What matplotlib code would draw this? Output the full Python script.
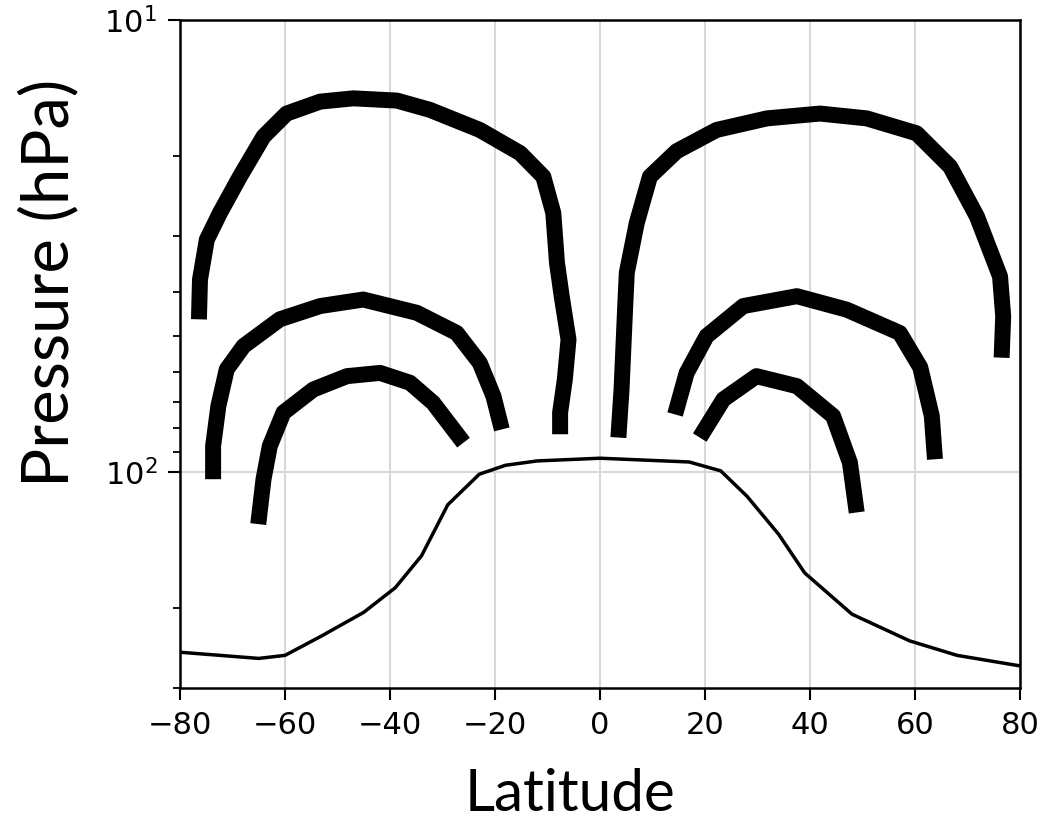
import matplotlib.pyplot as plt
from matplotlib.ticker import LogLocator, NullFormatter

# tropopause (thin line)
trop_lat = [-80, -65, -60, -53, -45, -39, -34, -29, -23, -18, -12, 0, 17, 23, 28, 34, 39, 48, 59, 68, 80]
trop_p = [250, 258, 254, 230, 204, 180, 153, 118, 101, 96.5, 94.4, 93.1, 94.9, 99.3, 113, 137, 167, 206, 236, 254, 268]

# southern hemisphere contours
s_outer_lat = [-76.4, -76.2, -74.9, -72.4, -68.6, -64.1, -59.7, -53.3, -47.0, -38.7, -32.4, -22.9, -15.2,
               -10.8, -8.9, -8.2, -7.3, -6.0, -6.7, -7.6, -7.6]
s_outer_p = [45.9, 37.5, 30.6, 26.7, 22.2, 18.1, 16.1, 15.15, 14.9, 15.07, 15.8, 17.5, 19.7,
             22.2, 26.7, 34.4, 40.8, 50.9, 62.3, 73.8, 82.4]
s_mid_lat = [-73.7, -73.7, -72.7, -71.1, -67.9, -61.0, -53.3, -45.1, -34.9, -27.3, -22.9, -20.3, -18.7]
s_mid_p = [103.6, 87.5, 71.4, 59.2, 52.6, 45.9, 42.9, 41.5, 44.4, 49.2, 57.3, 67.9, 80.4]
s_inner_lat = [-65.1, -64.1, -62.9, -60.3, -54.6, -48.2, -41.9, -36.2, -31.8, -26.0]
s_inner_p = [130.2, 103.6, 87.5, 73.8, 65.6, 61.3, 60.3, 63.4, 70.2, 86.0]

# northern hemisphere contours
n_outer_lat = [3.5, 4.1, 4.8, 5.1, 7.0, 9.5, 14.6, 22.2, 31.8, 41.9, 50.8, 60.3, 66.7, 71.8, 76.2, 76.8, 76.5]
n_outer_p = [83.8, 65.6, 42.9, 36.2, 28.1, 22.2, 19.5, 17.5, 16.5, 16.1, 16.5, 17.8, 21.1, 27.2, 36.9, 45.2, 55.8]
n_mid_lat = [14.3, 16.5, 20.3, 27.3, 37.5, 47.0, 57.1, 61.0, 63.2, 63.8]
n_mid_p = [74.5, 60.3, 50.0, 42.9, 40.8, 43.7, 49.2, 58.6, 75.1, 93.6]
n_inner_lat = [19.0, 23.5, 29.8, 37.5, 44.4, 47.6, 48.9]
n_inner_p = [83.8, 69.0, 61.3, 64.5, 75.1, 95.2, 122.7]

fig = plt.figure(figsize=(10.51, 8.24), dpi=100)
ax = fig.add_axes([0.1713, 0.165, 0.7992, 0.8107])

ax.plot(trop_lat, trop_p, color="black", lw=2.5)

contours = [(s_outer_lat, s_outer_p), (s_mid_lat, s_mid_p), (s_inner_lat, s_inner_p),
            (n_outer_lat, n_outer_p), (n_mid_lat, n_mid_p), (n_inner_lat, n_inner_p)]
for lat, p in contours:
    ax.plot(lat, p, color="black", lw=11.5, solid_capstyle="butt", solid_joinstyle="round")

ax.set_yscale("log")
ax.set_ylim(300, 10)
ax.set_xlim(-80, 80)
ax.set_xticks([-80, -60, -40, -20, 0, 20, 40, 60, 80])
ax.yaxis.set_major_locator(LogLocator(base=10))
ax.yaxis.set_minor_locator(LogLocator(base=10, subs=range(2, 10)))
ax.yaxis.set_minor_formatter(NullFormatter())

ax.grid(True, which="major", color="#d8d8d8", lw=1.5)
ax.set_axisbelow(True)
for s in ax.spines.values():
    s.set_linewidth(1.8)
ax.tick_params(which="major", length=8.5, width=1.5, labelsize=22, pad=8)
ax.tick_params(which="minor", length=5, width=1.3)

# axis titles
fig.text(0.0466, 0.657, "Pressure (hPa)", fontsize=47, family="Lato",
         rotation=90, ha="center", va="center")
fig.text(0.542, 0.016, "Latitude", fontsize=42, family="Lato",
         ha="center", va="baseline")

fig.savefig("out.png", dpi=100)
